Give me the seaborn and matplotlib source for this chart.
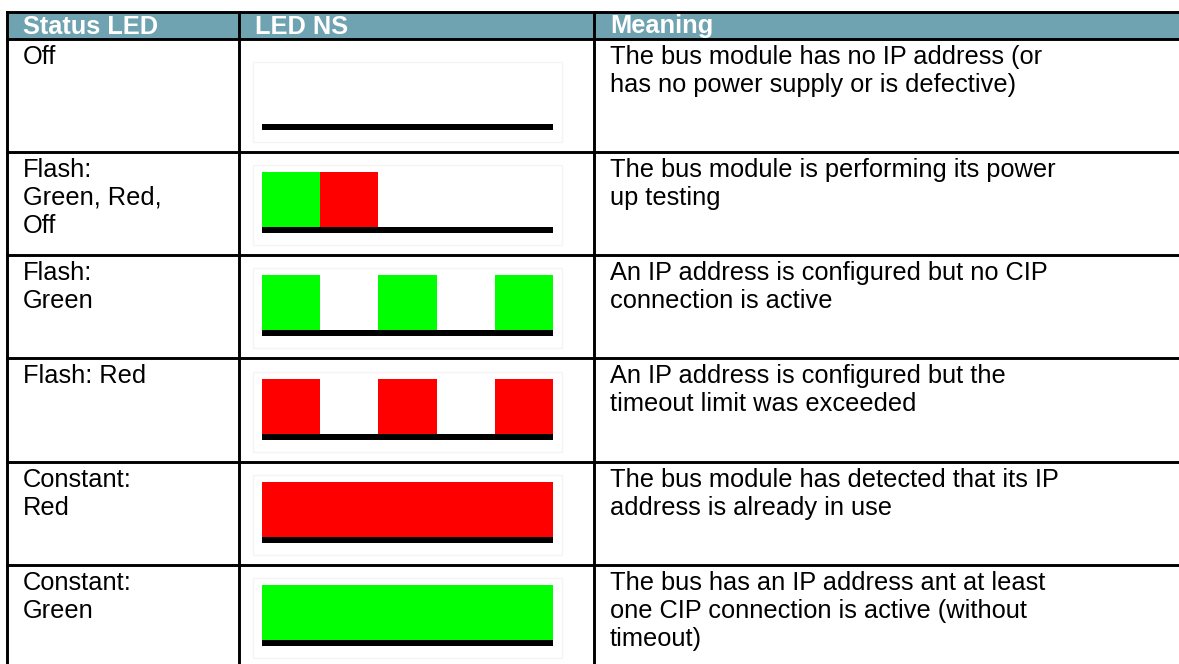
"""LED NS status table: status text, blink pattern drawing and meaning."""
import matplotlib
matplotlib.use("Agg")
import matplotlib.pyplot as plt
import seaborn as sns
from matplotlib.patches import Rectangle

# ── data ──────────────────────────────────────────────────────────────────────
headers = ["Status LED", "LED NS", "Meaning"]

status_labels = [
    "Off",
    "Flash:\nGreen, Red,\nOff",
    "Flash:\nGreen",
    "Flash: Red",
    "Constant:\nRed",
    "Constant:\nGreen",
]

# one entry per time slot of the blink picture
led_patterns = [
    ["off", "off", "off", "off", "off"],
    ["green", "red", "off", "off", "off"],
    ["green", "off", "green", "off", "green"],
    ["red", "off", "red", "off", "red"],
    ["red", "red", "red", "red", "red"],
    ["green", "green", "green", "green", "green"],
]

meanings = [
    "The bus module has no IP address (or\nhas no power supply or is defective)",
    "The bus module is performing its power\nup testing",
    "An IP address is configured but no CIP\nconnection is active",
    "An IP address is configured but the\ntimeout limit was exceeded",
    "The bus module has detected that its IP\naddress is already in use",
    "The bus has an IP address ant at least\none CIP connection is active (without\ntimeout)",
]

led_colors = {"green": "#00ff00", "red": "#ff0000"}

# ── layout (pixels) ───────────────────────────────────────────────────────────
W, H = 1179, 664
COL_X = [7, 239, 594, W + 5]
ROW_Y = [12, 39, 152, 255, 358, 462, 565, 668]
HEADER_BG = "#70a3b1"
SEG_X0, SEG_W = 262, 58.2
BLOCK_H, BAR_H, BAR_GAP = 55, 6, 22
PAD_X = 16
FONT = 18.3
LW = 2.1

sns.set_theme(style="white")
plt.rcParams["font.family"] = ["Liberation Sans", "DejaVu Sans"]

fig = plt.figure(figsize=(W / 100, H / 100), dpi=100)
ax = fig.add_axes([0, 0, 1, 1])
ax.set_xlim(0, W)
ax.set_ylim(H, 0)
ax.axis("off")

# header band
ax.add_patch(Rectangle((COL_X[0], ROW_Y[0]), COL_X[-1] - COL_X[0],
                       ROW_Y[1] - ROW_Y[0], color=HEADER_BG, lw=0))
for x, label in zip(COL_X[:3], headers):
    ax.text(x + PAD_X, (ROW_Y[0] + ROW_Y[1]) / 2 + 1, label, color="white",
            fontsize=FONT, fontweight="bold", va="center", ha="left")

# body rows
for i, (status, pattern, meaning) in enumerate(
        zip(status_labels, led_patterns, meanings)):
    top, bottom = ROW_Y[i + 1], ROW_Y[i + 2]
    ax.text(COL_X[0] + PAD_X, top + 6, status, fontsize=FONT, va="top",
            ha="left", color="black", linespacing=1.2)
    ax.text(COL_X[2] + PAD_X, top + 6, meaning, fontsize=FONT, va="top",
            ha="left", color="black", linespacing=1.2)

    bar_top = bottom - BAR_GAP - BAR_H
    block_top = bar_top - BLOCK_H
    # faint frame of the pasted picture
    ax.add_patch(Rectangle((SEG_X0 - 9, block_top - 7), 5 * SEG_W + 18,
                           BLOCK_H + BAR_H + 19, fill=False,
                           ec="#f4f4f4", lw=1))
    for j, state in enumerate(pattern):
        if state == "off":
            continue
        ax.bar(SEG_X0 + j * SEG_W, BLOCK_H, width=SEG_W, bottom=block_top,
               align="edge", color=led_colors[state], lw=0)
    ax.bar(SEG_X0, BAR_H, width=len(pattern) * SEG_W, bottom=bar_top,
           align="edge", color="black", lw=0)

# grid lines
for y in ROW_Y:
    ax.plot([COL_X[0], COL_X[-1]], [y, y], color="black", lw=LW,
            solid_capstyle="projecting")
for x in COL_X:
    ax.plot([x, x], [ROW_Y[0], ROW_Y[-1]], color="black", lw=LW,
            solid_capstyle="projecting")

fig.savefig("out.png", dpi=100)
